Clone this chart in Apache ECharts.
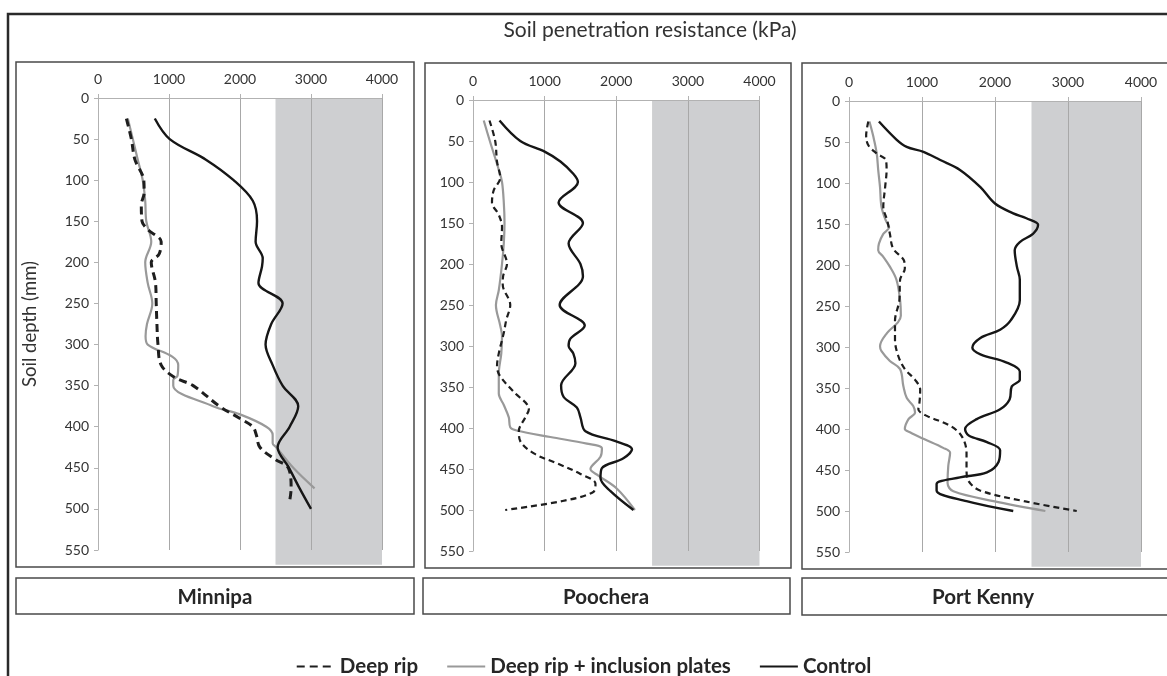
<!DOCTYPE html>
<html>
<head>
<meta charset="utf-8">
<script src="https://cdn.jsdelivr.net/npm/echarts@6/dist/echarts.min.js"></script>
<style>
  html, body { margin: 0; padding: 0; background: #ffffff; }
  #chart { width: 1167px; height: 676px; }
</style>
</head>
<body>
<div id="chart"></div>
<script>
// Site names, shown under each panel
const sites = ['Minnipa', 'Poochera', 'Port Kenny'];
const treatments = ['Deep rip', 'Deep rip + inclusion plates', 'Control'];

// Axis ticks
const kpaTicks = [0, 1000, 2000, 3000, 4000];
const depthTicks = [0, 50, 100, 150, 200, 250, 300, 350, 400, 450, 500, 550];

// Root-restricting resistance band (kPa) and how deep it is shaded (mm)
const restrictiveKpa = [2500, 4000];
const bandDepth = [0, 568];

// ---- Minnipa ----
const minnipaRipDepth  = [25, 50, 75, 100, 115, 130, 150, 160, 175, 190, 200, 225, 250, 275, 300, 325, 340, 350, 375, 390, 400, 410, 425, 440, 450, 475, 490];
const minnipaRipKpa    = [400, 470, 520, 645, 650, 610, 620, 700, 890, 860, 750, 810, 820, 830, 845, 890, 1080, 1340, 1710, 2000, 2180, 2230, 2280, 2500, 2680, 2720, 2700];
const minnipaPlateDepth = [25, 50, 75, 100, 125, 150, 175, 200, 225, 250, 275, 290, 300, 315, 325, 338, 343, 350, 375, 385, 400, 410, 420, 425, 450, 475];
const minnipaPlateKpa   = [420, 490, 560, 630, 665, 680, 750, 665, 700, 765, 690, 670, 700, 1050, 1130, 1120, 1060, 1060, 1620, 2000, 2370, 2460, 2460, 2510, 2750, 3050];
const minnipaCtrlDepth = [25, 50, 75, 100, 125, 150, 175, 195, 205, 225, 250, 275, 300, 325, 350, 375, 400, 425, 450, 475, 500];
const minnipaCtrlKpa   = [800, 1010, 1520, 1910, 2180, 2240, 2220, 2320, 2310, 2260, 2600, 2440, 2360, 2460, 2600, 2820, 2700, 2530, 2690, 2840, 3000];

// ---- Poochera ----
const poocheraRipDepth = [25, 50, 75, 95, 110, 125, 140, 155, 175, 200, 215, 225, 250, 268, 284, 309, 325, 337, 356, 377, 387, 404, 416, 431, 443, 456, 468, 478, 489, 500];
const poocheraRipKpa   = [230, 310, 335, 380, 290, 265, 360, 405, 395, 475, 420, 415, 520, 465, 430, 360, 335, 380, 570, 780, 730, 640, 660, 850, 1170, 1500, 1710, 1680, 1250, 450];
const poocheraPlateDepth = [25, 50, 85, 100, 125, 150, 175, 200, 232, 250, 275, 288, 309, 334, 358, 372, 387, 399, 403, 411, 419, 425, 435, 450, 458, 474, 500];
const poocheraPlateKpa   = [150, 235, 360, 405, 430, 440, 430, 405, 360, 320, 380, 405, 395, 360, 360, 430, 500, 520, 610, 1080, 1590, 1800, 1780, 1640, 1750, 2010, 2260];
const poocheraCtrlDepth = [25, 50, 63, 75, 90, 100, 125, 150, 175, 200, 215, 250, 275, 291, 300, 309, 321, 348, 362, 375, 387, 404, 416, 426, 437, 449, 461, 477, 500];
const poocheraCtrlKpa   = [370, 660, 1000, 1220, 1400, 1465, 1195, 1535, 1335, 1500, 1535, 1210, 1560, 1360, 1335, 1400, 1430, 1230, 1265, 1450, 1500, 1570, 1990, 2220, 2100, 1800, 1780, 1920, 2240];

// ---- Port Kenny ----
const portKennyRipDepth = [25, 42, 54, 64, 72, 84, 105, 129, 146, 162, 180, 194, 204, 218, 243, 268, 291, 311, 327, 340, 352, 368, 376, 384, 396, 409, 429, 449, 463, 475, 488, 500];
const portKennyRipKpa   = [265, 235, 265, 380, 505, 515, 495, 470, 525, 560, 605, 750, 765, 700, 690, 630, 630, 675, 765, 905, 975, 965, 950, 1065, 1385, 1545, 1610, 1610, 1635, 1795, 2400, 3120];
const portKennyPlateDepth = [25, 44, 64, 84, 105, 129, 146, 154, 162, 174, 182, 190, 202, 218, 243, 262, 270, 283, 299, 305, 317, 327, 348, 362, 372, 380, 388, 400, 404, 412, 423, 429, 445, 466, 476, 488, 500];
const portKennyPlateKpa   = [280, 335, 380, 400, 425, 445, 505, 550, 470, 410, 400, 470, 560, 650, 700, 710, 670, 520, 425, 445, 560, 700, 745, 790, 880, 905, 815, 765, 835, 1020, 1290, 1385, 1360, 1350, 1430, 1980, 2690];
const portKennyCtrlDepth = [25, 47, 56, 62, 72, 84, 105, 125, 137, 143, 151, 162, 172, 182, 202, 218, 243, 267, 279, 289, 301, 309, 319, 330, 340, 348, 364, 376, 388, 400, 408, 416, 426, 440, 453, 459, 467, 475, 488, 500];
const portKennyCtrlKpa   = [410, 650, 790, 1020, 1250, 1520, 1800, 2000, 2250, 2430, 2590, 2520, 2340, 2270, 2300, 2340, 2340, 2220, 2070, 1800, 1690, 1800, 2160, 2340, 2340, 2230, 2200, 2070, 1750, 1590, 1640, 1890, 2070, 2050, 1890, 1520, 1200, 1200, 1610, 2250];

const FONT = 'Lato';

// Pixel layout of the three panels
const gridBoxes = [
  { left: 98,  top: 98,  width: 284,   height: 452 },
  { left: 473, top: 100, width: 286.5, height: 451 },
  { left: 849, top: 101, width: 292,   height: 451 }
];
const panelFrames = [
  { x: 16,  y: 62, width: 398, height: 505 },
  { x: 425, y: 63, width: 366, height: 505 },
  { x: 802, y: 63, width: 380, height: 506 }
];
const labelBoxes = [
  { x: 16,  y: 578, width: 398, height: 36, cx: 215 },
  { x: 423, y: 578, width: 367, height: 36, cx: 606 },
  { x: 802, y: 578, width: 380, height: 37, cx: 983 }
];

const chart = echarts.init(document.getElementById('chart'), null, { renderer: 'canvas' });

function pairs(kpa, depth) {
  return kpa.map((v, i) => [v, depth[i]]);
}

const siteSeries = [
  [minnipaRipKpa, minnipaRipDepth, minnipaPlateKpa, minnipaPlateDepth, minnipaCtrlKpa, minnipaCtrlDepth],
  [poocheraRipKpa, poocheraRipDepth, poocheraPlateKpa, poocheraPlateDepth, poocheraCtrlKpa, poocheraCtrlDepth],
  [portKennyRipKpa, portKennyRipDepth, portKennyPlateKpa, portKennyPlateDepth, portKennyCtrlKpa, portKennyCtrlDepth]
];

const series = [];
siteSeries.forEach((s, i) => {
  const ripWidth = i === 0 ? 3 : 2.2;
  series.push({
    name: treatments[0], type: 'line', xAxisIndex: i, yAxisIndex: i,
    data: pairs(s[0], s[1]), smooth: 0.35, symbol: 'none', z: 3,
    lineStyle: { color: '#1e1e1e', width: ripWidth, type: i === 0 ? [8, 5] : [6, 4] },
    itemStyle: { color: '#1e1e1e' }
  });
  series.push({
    name: treatments[1], type: 'line', xAxisIndex: i, yAxisIndex: i,
    data: pairs(s[2], s[3]), smooth: 0.35, symbol: 'none', z: 2,
    lineStyle: { color: '#999999', width: 2.2 },
    itemStyle: { color: '#999999' }
  });
  series.push({
    name: treatments[2], type: 'line', xAxisIndex: i, yAxisIndex: i,
    data: pairs(s[4], s[5]), smooth: 0.35, symbol: 'none', z: 4,
    lineStyle: { color: '#161616', width: 2.4 },
    itemStyle: { color: '#161616' }
  });
});

const axisGray = '#b2b2b2';
const plainNumber = v => String(v);

const xAxes = gridBoxes.map((g, i) => ({
  type: 'value', gridIndex: i, position: 'top',
  min: kpaTicks[0], max: kpaTicks[kpaTicks.length - 1], interval: kpaTicks[1] - kpaTicks[0],
  axisLine: { show: true, onZero: false, lineStyle: { color: axisGray, width: 1 } },
  axisTick: { show: true, length: 4, lineStyle: { color: axisGray } },
  axisLabel: { fontFamily: FONT, fontSize: 14, color: '#333333', margin: 12, formatter: plainNumber },
  splitLine: { show: true, lineStyle: { color: '#a8a8a8', width: 1 } }
}));

const yAxes = gridBoxes.map((g, i) => ({
  type: 'value', gridIndex: i, inverse: true,
  min: depthTicks[0], max: depthTicks[depthTicks.length - 1], interval: depthTicks[1] - depthTicks[0],
  name: i === 0 ? 'Soil depth (mm)' : '',
  nameLocation: 'middle', nameGap: 58, nameRotate: 90,
  nameTextStyle: { fontFamily: FONT, fontSize: 18.5, color: '#333333' },
  axisLine: { show: true, onZero: false, lineStyle: { color: axisGray, width: 1 } },
  axisTick: { show: true, length: 4, lineStyle: { color: axisGray } },
  axisLabel: { fontFamily: FONT, fontSize: 14, color: '#333333', margin: 9, formatter: plainNumber },
  splitLine: { show: false }
}));

const staticGraphics = [
  // outer frame of the figure
  { type: 'rect', z: 10, shape: { x: 8, y: 14, width: 1200, height: 700 },
    style: { fill: 'none', stroke: '#2a2a2a', lineWidth: 2.5 } }
];
panelFrames.forEach(f => staticGraphics.push({
  type: 'rect', z: 10, shape: { x: f.x, y: f.y, width: f.width, height: f.height },
  style: { fill: 'none', stroke: '#4a4a4a', lineWidth: 1.5 }
}));
labelBoxes.forEach((b, i) => {
  staticGraphics.push({
    type: 'rect', z: 10, shape: { x: b.x, y: b.y, width: b.width, height: b.height },
    style: { fill: 'none', stroke: '#4a4a4a', lineWidth: 1.5 }
  });
  staticGraphics.push({
    type: 'text', z: 10, x: b.cx, y: b.y + b.height / 2 + 1,
    style: { text: sites[i], fontFamily: FONT, fontWeight: 'bold', fontSize: 20.5,
             fill: '#262626', align: 'center', verticalAlign: 'middle' }
  });
});
staticGraphics.push({
  type: 'text', z: 10, x: 650, y: 30,
  style: { text: 'Soil penetration resistance (kPa)', fontFamily: FONT, fontSize: 21,
           fill: '#333333', align: 'center', verticalAlign: 'middle' }
});

chart.setOption({
  backgroundColor: '#ffffff',
  animation: false,
  grid: gridBoxes.map(g => Object.assign({ containLabel: false }, g)),
  xAxis: xAxes,
  yAxis: yAxes,
  legend: {
    data: treatments,
    left: 'center', top: 651,
    itemWidth: 38, itemHeight: 14, itemGap: 28,
    itemStyle: { opacity: 0 },
    textStyle: { fontFamily: FONT, fontWeight: 'bold', fontSize: 20.5, color: '#262626' }
  },
  graphic: staticGraphics,
  series: series
});

// Shade the root-restricting band in every panel using the axes' own scales
const bandGraphics = gridBoxes.map((g, i) => {
  const p0 = chart.convertToPixel({ xAxisIndex: i, yAxisIndex: i }, [restrictiveKpa[0], bandDepth[0]]);
  const p1 = chart.convertToPixel({ xAxisIndex: i, yAxisIndex: i }, [restrictiveKpa[1], bandDepth[1]]);
  return {
    type: 'rect', z: -1,
    shape: { x: p0[0], y: p0[1], width: p1[0] - p0[0], height: p1[1] - p0[1] },
    style: { fill: '#cecfd1' }
  };
});
chart.setOption({ graphic: staticGraphics.concat(bandGraphics) });
</script>
</body>
</html>
